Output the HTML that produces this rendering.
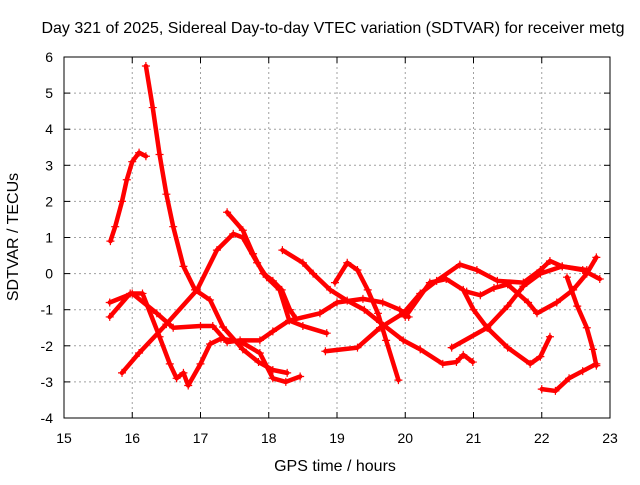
<!DOCTYPE html>
<html><head><meta charset="utf-8"><style>
body{margin:0;background:#fff;}
svg text{font-family:"Liberation Sans",sans-serif;fill:#000;}
</style></head><body>
<svg id="chart" width="640" height="480" xmlns="http://www.w3.org/2000/svg">
<rect width="640" height="480" fill="#fff"/>
<text x="333" y="33" font-size="16" text-anchor="middle">Day 321 of 2025, Sidereal Day-to-day VTEC variation (SDTVAR) for receiver metg</text>
<g id="grid"></g>
<g id="series"></g>
<rect x="64" y="57" width="546" height="361" fill="none" stroke="#000" stroke-width="1"/>
<g id="ticks"></g>
<text transform="translate(18,237) rotate(-90)" font-size="16" text-anchor="middle">SDTVAR / TECUs</text>
<text x="335" y="471" font-size="16" text-anchor="middle">GPS time / hours</text>
</svg>
<script>
const xTicks=[15,16,17,18,19,20,21,22,23];
const yTicks=[-4,-3,-2,-1,0,1,2,3,4,5,6];
const sA=[[15.68,0.9],[15.75,1.3],[15.85,2.0],[15.92,2.6],[16.0,3.1],[16.1,3.35],[16.2,3.25]];
const sB=[[16.2,5.75],[16.3,4.6],[16.4,3.3],[16.5,2.2],[16.6,1.3],[16.75,0.2],[16.92,-0.45],[17.14,-0.73],[17.33,-1.48],[17.62,-2.1],[17.85,-2.45],[18.06,-2.67],[18.27,-2.75]];
const sC=[[15.85,-2.75],[16.1,-2.2],[16.5,-1.4],[16.95,-0.45],[17.24,0.65],[17.48,1.1],[17.62,1.0],[17.83,0.3],[17.97,-0.1],[18.16,-0.45],[18.3,-1.3],[18.5,-1.45],[18.85,-1.65]];
const sD=[[17.39,1.7],[17.62,1.2],[17.77,0.55],[17.92,0.0],[18.06,-0.2],[18.19,-0.45],[18.31,-1.0],[18.4,-1.25]];
const sE=[[18.2,0.65],[18.5,0.3],[18.65,0.0],[18.9,-0.45],[19.15,-0.75],[19.4,-1.0],[19.63,-1.35],[19.97,-1.85],[20.22,-2.1],[20.55,-2.5],[20.75,-2.45],[20.85,-2.25],[20.99,-2.45]];
const sF=[[18.97,-0.25],[19.15,0.3],[19.3,0.1],[19.45,-0.45],[19.6,-1.1],[19.72,-1.85],[19.9,-2.95]];
const sG=[[15.67,-0.8],[16.0,-0.55],[16.36,-1.1],[16.6,-1.5],[17.0,-1.45],[17.18,-1.45],[17.39,-1.9],[17.58,-1.85],[17.87,-1.85],[18.06,-1.6],[18.3,-1.3],[18.75,-1.1],[19.0,-0.8],[19.38,-0.7],[19.67,-0.8],[19.92,-1.0],[20.05,-1.2]];
const sH=[[15.67,-1.2],[15.97,-0.55],[16.15,-0.55],[16.4,-1.75],[16.55,-2.5],[16.65,-2.9],[16.75,-2.75],[16.82,-3.1],[17.0,-2.5],[17.14,-1.95],[17.3,-1.8],[17.6,-1.9],[17.87,-2.2],[18.06,-2.9],[18.25,-3.0],[18.46,-2.85]];
const sI=[[18.83,-2.15],[19.3,-2.05],[19.63,-1.5],[19.97,-1.1],[20.22,-0.55],[20.46,-0.2],[20.8,0.25],[21.05,0.1],[21.35,-0.2],[21.73,-0.25],[21.98,0.1],[22.12,0.35],[22.3,0.2],[22.6,0.1],[22.85,-0.15]];
const sJ=[[20.0,-1.2],[20.36,-0.25],[20.6,-0.15],[20.85,-0.45],[21.0,-1.0],[21.2,-1.5],[21.5,-2.05],[21.83,-2.5],[21.98,-2.3],[22.12,-1.75]];
const sK=[[20.68,-2.05],[21.2,-1.5],[21.5,-0.9],[21.73,-0.35],[21.98,0.0],[22.3,0.2],[22.66,0.1]];
const sL=[[20.9,-0.5],[21.1,-0.6],[21.3,-0.4],[21.5,-0.3],[21.8,-0.8],[21.93,-1.1],[22.22,-0.8],[22.46,-0.45],[22.66,0.0],[22.8,0.45]];
const sM=[[22.37,-0.1],[22.52,-0.9],[22.66,-1.5],[22.75,-2.1],[22.8,-2.55]];
const sN=[[22.0,-3.2],[22.2,-3.25],[22.4,-2.9],[22.6,-2.7],[22.8,-2.5]];
const allSeries=[sA,sB,sC,sD,sE,sF,sG,sH,sI,sJ,sK,sL,sM,sN];
const NS="http://www.w3.org/2000/svg";
const X0=64,X1=610,Y0=418,Y1=57;
const xs=t=>X0+(t-15)/8*(X1-X0);
const ys=v=>Y0-(v+4)/10*(Y0-Y1);
function mk(tag,attrs,parent){const e=document.createElementNS(NS,tag);for(const k in attrs)e.setAttribute(k,attrs[k]);parent.appendChild(e);return e;}
const grid=document.getElementById('grid'),ticks=document.getElementById('ticks'),ser=document.getElementById('series');
xTicks.forEach(t=>{const x=xs(t);
 if(t>15&&t<23){const g=mk('line',{x1:x,x2:x,y1:Y1,y2:Y0,stroke:'#a0a0a0','stroke-dasharray':'2,3'},grid);
 
 }
 mk('line',{x1:x,x2:x,y1:Y0,y2:Y0-6,stroke:'#000'},ticks);
 mk('line',{x1:x,x2:x,y1:Y1,y2:Y1+6,stroke:'#000'},ticks);
 const l=mk('text',{x:x,y:443,'font-size':'14','text-anchor':'middle'},ticks);l.textContent=t;
 
 
});
yTicks.forEach(v=>{const y=ys(v);
 if(v>-4&&v<6){const g=mk('line',{x1:X0,x2:X1,y1:y,y2:y,stroke:'#a0a0a0','stroke-dasharray':'2,3'},grid);
 
 }
 mk('line',{x1:X0,x2:X0+6,y1:y,y2:y,stroke:'#000'},ticks);
 mk('line',{x1:X1,x2:X1-6,y1:y,y2:y,stroke:'#000'},ticks);
 const l=mk('text',{x:53,y:y+5,'font-size':'14','text-anchor':'end'},ticks);l.textContent=v;
 
 
});
allSeries.forEach((s,i)=>{
 const g=mk('g',{},ser);
 
 
 mk('polyline',{points:s.map(p=>xs(p[0])+','+ys(p[1])).join(' '),fill:'none',stroke:'#ff0000','stroke-width':4.5,'stroke-linejoin':'round','stroke-linecap':'round'},g);
 s.forEach(p=>{const x=xs(p[0]),y=ys(p[1]);
  mk('path',{d:`M${x-4},${y}H${x+4}M${x},${y-4}V${y+4}`,stroke:'#ff0000','stroke-width':1.2},g);});
});
</script>
</body></html>
